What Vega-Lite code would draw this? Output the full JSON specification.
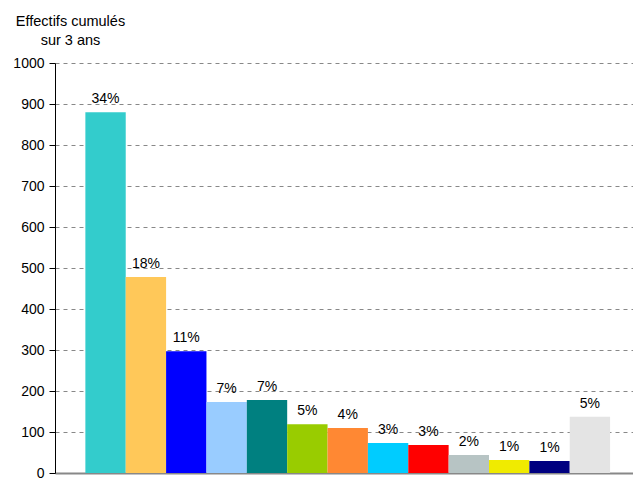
{
  "$schema": "https://vega.github.io/schema/vega-lite/v6.json",
  "width": 578,
  "height": 410,
  "autosize": "none",
  "padding": {"left": 55, "top": 63, "right": 0, "bottom": 6},
  "config": {"view": {"stroke": null}, "font": "Liberation Sans"},
  "data": {"values": [
    {"cat": "c01", "v": 880, "pct": "34%"},
    {"cat": "c02", "v": 478, "pct": "18%"},
    {"cat": "c03", "v": 297, "pct": "11%"},
    {"cat": "c04", "v": 173, "pct": "7%"},
    {"cat": "c05", "v": 178, "pct": "7%"},
    {"cat": "c06", "v": 119, "pct": "5%"},
    {"cat": "c07", "v": 110, "pct": "4%"},
    {"cat": "c08", "v": 73, "pct": "3%"},
    {"cat": "c09", "v": 68, "pct": "3%"},
    {"cat": "c10", "v": 44, "pct": "2%"},
    {"cat": "c11", "v": 32, "pct": "1%"},
    {"cat": "c12", "v": 29, "pct": "1%"},
    {"cat": "c13", "v": 137, "pct": "5%"}
  ]},
  "encoding": {
    "x": {
      "field": "cat", "type": "nominal", "sort": null,
      "scale": {"paddingInner": 0, "paddingOuter": 0.66, "align": 0.57},
      "axis": {"labels": false, "ticks": false, "title": null, "domainColor": "#888888", "domainWidth": 2}
    },
    "y": {
      "field": "v", "type": "quantitative",
      "scale": {"domain": [0, 1000], "nice": false},
      "axis": {
        "values": [0, 100, 200, 300, 400, 500, 600, 700, 800, 900, 1000],
        "format": "d",
        "title": ["Effectifs cumulés", "sur 3 ans"],
        "titleAngle": 0, "titleAlign": "center", "titleBaseline": "top",
        "titleX": 15, "titleY": -49, "titleLineHeight": 19,
        "titleFontSize": 14.5, "titleFontWeight": "normal", "titleColor": "#000000",
        "labelFontSize": 14, "labelColor": "#000000", "labelPadding": 5,
        "tickColor": "#000000", "tickSize": 6, "domainColor": "#000000",
        "gridColor": "#888888", "gridDash": [4, 4], "gridWidth": 1
      }
    }
  },
  "layer": [
    {
      "mark": {"type": "bar"},
      "encoding": {
        "color": {
          "field": "cat", "type": "nominal", "legend": null,
          "scale": {
            "domain": ["c01","c02","c03","c04","c05","c06","c07","c08","c09","c10","c11","c12","c13"],
            "range": ["#33CCCC","#FFC859","#0000FF","#99CCFF","#008080","#99CC00","#FF8833","#00CCFF","#FF0000","#B7C4C4","#F0EB00","#000080","#E4E4E4"]
          }
        }
      }
    },
    {
      "mark": {"type": "text", "baseline": "bottom", "dy": -6, "fontSize": 14, "color": "#000000"},
      "encoding": {"text": {"field": "pct"}}
    }
  ]
}
